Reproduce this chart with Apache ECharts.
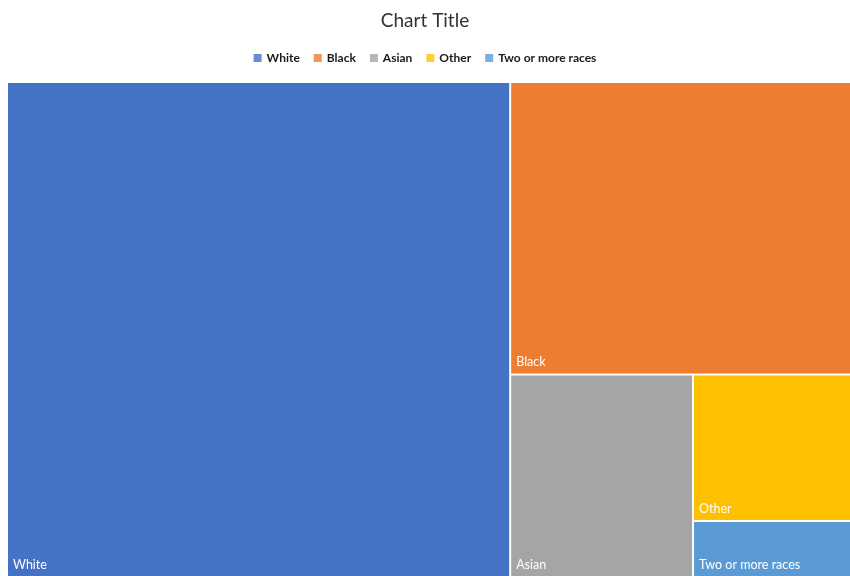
<!DOCTYPE html>
<html>
<head>
<meta charset="utf-8">
<script src="https://cdn.jsdelivr.net/npm/echarts@6/dist/echarts.min.js"></script>
<style>
html,body{margin:0;padding:0;background:#fff;}
#chart{width:850px;height:576px;}
</style>
</head>
<body>
<div id="chart"></div>
<script>
var categories = ['White', 'Black', 'Asian', 'Other', 'Two or more races'];
var values = [59.2, 23.7, 8.8, 5.5, 2.1];
var colors = ['#4472C4', '#ED7D31', '#A5A5A5', '#FFC000', '#5B9BD5'];
var titleText = 'Chart Title';

var chart = echarts.init(document.getElementById('chart'));
var fontFam = 'Lato, "Open Sans", sans-serif';

var treeData = categories.map(function (c, i) {
  return { name: c, value: values[i], itemStyle: { color: colors[i] } };
});

var legendSeries = categories.map(function (c, i) {
  return {
    type: 'scatter', name: c, data: [],
    itemStyle: { color: colors[i] }
  };
});

chart.setOption({
  animation: false,
  title: {
    text: titleText, left: 'center', top: 6,
    textStyle: { fontFamily: fontFam, fontSize: 19, fontWeight: 'normal', color: '#333333' }
  },
  legend: {
    data: categories, top: 47, left: 'center',
    icon: 'rect', itemWidth: 8, itemHeight: 8, itemGap: 14,
    textStyle: { fontFamily: fontFam, fontSize: 12, fontWeight: 'bold', color: '#1a1a1a' }
  },
  grid: { show: false, left: 0, top: 0, width: 1, height: 1 },
  xAxis: { show: false, type: 'value' },
  yAxis: { show: false, type: 'value' },
  series: [{
    type: 'treemap',
    left: 8, top: 83, right: 0, bottom: 0,
    roam: false, nodeClick: false,
    breadcrumb: { show: false },
    sort: 'desc',
    label: {
      show: true, position: 'insideBottomLeft', distance: 0,
      color: '#fff', fontFamily: fontFam, fontSize: 12.5
    },
    itemStyle: { borderWidth: 0, gapWidth: 2, borderColor: '#fff' },
    levels: [{ itemStyle: { borderWidth: 0, gapWidth: 2, borderColor: '#fff' } }],
    data: treeData
  }].concat(legendSeries)
});
</script>
</body>
</html>
